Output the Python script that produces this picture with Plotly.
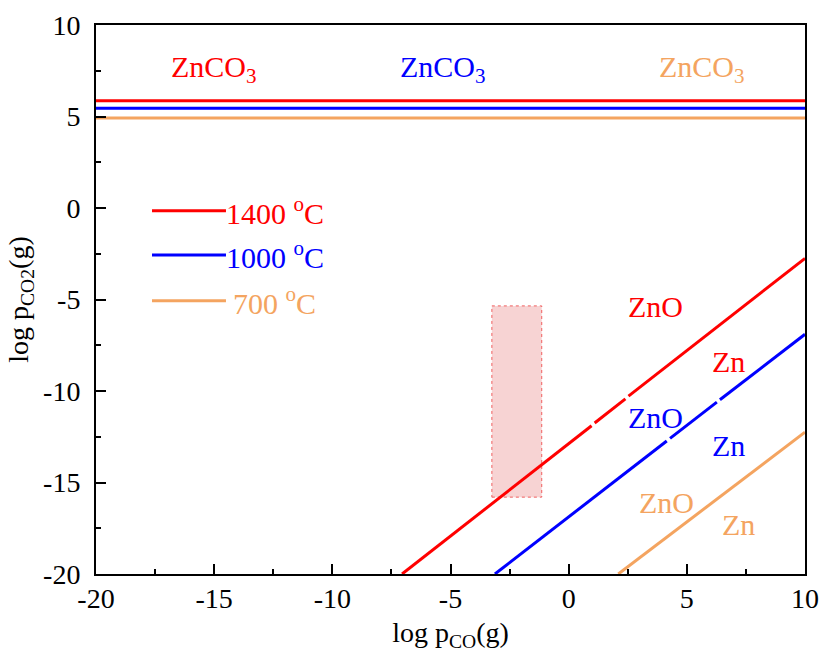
import plotly.graph_objects as go

# ---- data ----
# diagonal boundary lines (segment endpoints, None = small break)
red_x = [-7.05, 0.97, None, 1.10, 2.40, None, 2.53, 10]
red_y = [-20, -11.9, None, -11.75, -10.43, None, -10.28, -2.75]
blue_x = [-3.12, 4.15, None, 4.29, 6.27, None, 6.40, 10]
blue_y = [-20, -12.73, None, -12.59, -10.61, None, -10.48, -6.9]
orange_x = [2.1, 10]
orange_y = [-20, -12.25]

# horizontal ZnCO3 boundaries
h_levels = [5.86, 5.45, 4.92]
colors = ["#ff0000", "#0000ff", "#f4a460"]
temps = ["1400 <sup>o</sup>C", "1000 <sup>o</sup>C", "700 <sup>o</sup>C"]

# phase labels
znco3_x = [-15.0, -5.3, 5.65]
znco3_y = [7.6, 7.6, 7.6]
zno_x = [3.66, 3.66, 4.12]
zno_y = [-5.4, -11.45, -16.1]
zn_x = [6.75, 6.75, 7.2]
zn_y = [-8.4, -13.0, -17.3]

# legend rows
leg_x = [-17.63, -14.5]
leg_y = [-0.15, -2.57, -5.07]
leg_text_x = [-14.5, -14.5, -14.2]

# highlighted region
rect_x = [-3.25, -1.14]
rect_y = [-15.8, -5.35]

# tick labels
tick_vals = [-20, -15, -10, -5, 0, 5, 10]
tick_text = ["-20", "-15", "-10", "-5", "0", "5", "10"]

FONT = "Liberation Serif"

fig = go.Figure()

for xs, ys, c in [(red_x, red_y, colors[0]), (blue_x, blue_y, colors[1]), (orange_x, orange_y, colors[2])]:
    fig.add_trace(go.Scatter(x=xs, y=ys, mode="lines", line=dict(color=c, width=3),
                             connectgaps=False, showlegend=False, hoverinfo="skip"))

for lvl, c in zip(h_levels, colors):
    fig.add_trace(go.Scatter(x=[-20, 10], y=[lvl, lvl], mode="lines",
                             line=dict(color=c, width=3), showlegend=False, hoverinfo="skip"))

# legend lines as traces
for ly, c in zip(leg_y, colors):
    fig.add_trace(go.Scatter(x=leg_x, y=[ly, ly], mode="lines",
                             line=dict(color=c, width=3), showlegend=False, hoverinfo="skip"))

fig.add_shape(type="rect", xref="x", yref="y", x0=rect_x[0], x1=rect_x[1], y0=rect_y[0], y1=rect_y[1],
              fillcolor="#f7d3d3", line=dict(color="#f06060", width=1, dash="dot"), layer="below")

LBL = 30
ann = []
for x, y, c in zip(znco3_x, znco3_y, colors):
    ann.append(dict(x=x, y=y, text="ZnCO<sub>3</sub>", showarrow=False, font=dict(color=c, size=LBL, family=FONT)))
for x, y, c in zip(zno_x, zno_y, colors):
    ann.append(dict(x=x, y=y, text="ZnO", showarrow=False, font=dict(color=c, size=LBL, family=FONT)))
for x, y, c in zip(zn_x, zn_y, colors):
    ann.append(dict(x=x, y=y, text="Zn", showarrow=False, font=dict(color=c, size=LBL, family=FONT)))
for tx, ly, c, t in zip(leg_text_x, leg_y, colors, temps):
    ann.append(dict(x=tx, y=ly, text=t, showarrow=False, xanchor="left", xshift=-2,
                    font=dict(color=c, size=LBL, family=FONT)))

axis_common = dict(
    showgrid=False, zeroline=False, showline=True, linecolor="black", linewidth=2, mirror=True,
    ticks="inside", ticklen=10, tickwidth=2, tickcolor="black",
    tickmode="array", tickvals=tick_vals, ticktext=tick_text,
    tickfont=dict(family=FONT, size=28, color="black"),
    minor=dict(ticks="inside", ticklen=5, tickwidth=1.5, tickcolor="black", dtick=2.5, tick0=-20),
    automargin=False,
)

fig.update_layout(
    width=819, height=653,
    margin=dict(l=96, r=14, t=25, b=79),
    plot_bgcolor="white", paper_bgcolor="white",
    annotations=ann,
    xaxis=dict(range=[-20, 10], ticklabelstandoff=-2,
               title=dict(text="log p<sub>CO</sub>(g)", font=dict(family=FONT, size=28, color="black"), standoff=10),
               **axis_common),
    yaxis=dict(range=[-20, 10], ticklabelstandoff=8,
               title=dict(text="log p<sub>CO2</sub>(g)", font=dict(family=FONT, size=28, color="black"), standoff=6),
               **axis_common),
)

fig.write_html("out.html")
